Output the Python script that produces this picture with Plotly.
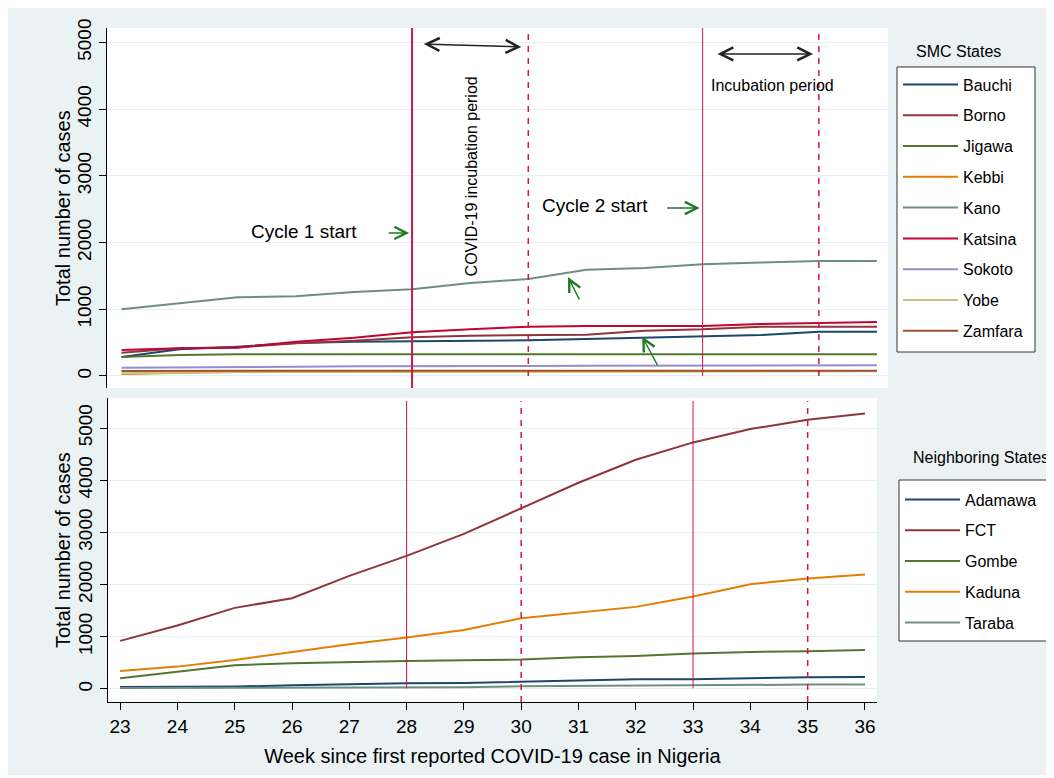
import plotly.graph_objects as go

FONT = "Liberation Sans, Arial, sans-serif"

weeks = list(range(23, 37))

# SMC states (top panel)
smc_names = ["Bauchi", "Borno", "Jigawa", "Kebbi", "Kano", "Katsina", "Sokoto", "Yobe", "Zamfara"]
bauchi = [285, 400, 440, 495, 515, 520, 525, 535, 555, 575, 585, 615, 665, 665]
borno = [350, 415, 430, 490, 530, 580, 605, 615, 620, 680, 700, 740, 745, 740]
jigawa = [285, 315, 325, 325, 325, 325, 325, 325, 325, 325, 325, 325, 325, 325]
kebbi = [30, 50, 65, 70, 70, 70, 70, 70, 70, 72, 72, 72, 75, 75]
kano = [1000, 1090, 1181, 1196, 1260, 1300, 1394, 1454, 1594, 1619, 1674, 1700, 1723, 1723]
katsina = [390, 415, 425, 515, 575, 655, 700, 740, 750, 750, 750, 780, 790, 810]
sokoto = [125, 127, 130, 137, 145, 150, 150, 150, 152, 154, 155, 157, 158, 160]
yobe = [40, 50, 55, 58, 60, 60, 62, 62, 64, 65, 66, 68, 70, 70]
zamfara = [75, 78, 80, 80, 80, 80, 80, 80, 80, 80, 80, 80, 80, 80]
smc_values = [bauchi, borno, jigawa, kebbi, kano, katsina, sokoto, yobe, zamfara]
smc_colors = ["#1a476f", "#90353b", "#55752f", "#e37e00", "#6e8e84",
              "#c10534", "#938dd2", "#cac27e", "#a0522d"]

# Neighboring states (bottom panel)
nb_names = ["Adamawa", "FCT", "Gombe", "Kaduna", "Taraba"]
adamawa = [38, 38, 45, 70, 90, 109, 115, 134, 160, 185, 185, 205, 224, 230]
fct = [921, 1215, 1554, 1739, 2168, 2551, 2973, 3459, 3951, 4393, 4725, 4981, 5160, 5281]
gombe = [205, 332, 454, 492, 518, 537, 550, 563, 607, 633, 678, 710, 722, 748]
kaduna = [345, 428, 556, 710, 857, 985, 1132, 1355, 1464, 1573, 1771, 2008, 2116, 2193]
taraba = [19, 22, 25, 25, 25, 25, 32, 51, 58, 70, 77, 77, 83, 83]
nb_values = [adamawa, fct, gombe, kaduna, taraba]
nb_colors = ["#1a476f", "#90353b", "#55752f", "#e37e00", "#6e8e84"]

yticks = [0, 1000, 2000, 3000, 4000, 5000]
cycle_starts = [28, 33]
incubation_ends = [30, 35]

OFF = 8            # page offset of the figure inside the browser window
W, H = 1040, 767
def px(x):
    return (x - OFF) / W
def py(y):
    return 1 - (y - OFF) / H

fig = go.Figure()

for name, vals, col in zip(smc_names, smc_values, smc_colors):
    fig.add_trace(go.Scatter(x=weeks, y=vals, mode="lines", name=name,
                             line=dict(color=col, width=2), xaxis="x", yaxis="y",
                             legend="legend", legendgroup=name))
for name, vals, col in zip(nb_names, nb_values, nb_colors):
    fig.add_trace(go.Scatter(x=weeks, y=vals, mode="lines", name=name,
                             line=dict(color=col, width=2), xaxis="x2", yaxis="y2",
                             legend="legend2", legendgroup=name))

VCOL = "#d0164a"
shapes = []
# legend boxes
shapes.append(dict(type="rect", xref="paper", yref="paper", x0=px(897), x1=px(1035),
                   y0=py(352), y1=py(67), fillcolor="white", line=dict(color="#333333", width=1),
                   layer="below"))
shapes.append(dict(type="rect", xref="paper", yref="paper", x0=px(899), x1=px(1048),
                   y0=py(641), y1=py(480), fillcolor="white", line=dict(color="#333333", width=1),
                   layer="below"))
# top panel vertical lines
shapes.append(dict(type="line", xref="x", yref="y domain", x0=cycle_starts[0], x1=cycle_starts[0],
                   y0=0, y1=1, line=dict(color=VCOL, width=2)))
shapes.append(dict(type="line", xref="x", yref="y domain", x0=cycle_starts[1], x1=cycle_starts[1],
                   y0=0.033, y1=1, line=dict(color=VCOL, width=1)))
for w in incubation_ends:
    shapes.append(dict(type="line", xref="x", yref="y domain", x0=w, x1=w, y0=0.033, y1=0.99,
                       line=dict(color=VCOL, width=1.5, dash="6px,6px")))
# bottom panel vertical lines
for w in cycle_starts:
    shapes.append(dict(type="line", xref="x2", yref="y2 domain", x0=w, x1=w, y0=0.045, y1=0.99,
                       line=dict(color=VCOL, width=1)))
for w in incubation_ends:
    shapes.append(dict(type="line", xref="x2", yref="y2 domain", x0=w, x1=w, y0=0, y1=0.99,
                       line=dict(color=VCOL, width=1.5, dash="6px,6px")))

GREEN = "#1f7a24"
ann = []
ann.append(dict(text="Cycle 1 start", x=26.14, y=2159, xref="x", yref="y", showarrow=False,
                xanchor="center", yanchor="middle",
                font=dict(size=19, color="black", family=FONT)))
ann.append(dict(text="Cycle 2 start", x=31.15, y=2549, xref="x", yref="y", showarrow=False,
                xanchor="center", yanchor="middle",
                font=dict(size=19, color="black", family=FONT)))
ann.append(dict(text="COVID-19 incubation period", x=29.03, y=2991, xref="x", yref="y",
                xanchor="center", yanchor="middle",
                showarrow=False, textangle=-90, font=dict(size=16, color="black", family=FONT)))
ann.append(dict(text="Incubation period", x=34.2, y=4348, xref="x", yref="y", showarrow=False,
                xanchor="center", yanchor="middle",
                font=dict(size=16, color="black", family=FONT)))
# green arrows
for (x, y, ax, ay) in [(27.95, 2145, -22, 0), (32.95, 2519, -34, 0),
                       (30.685, 1484, 12, 24), (31.96, 592, 16, 30)]:
    ann.append(dict(text="", x=x, y=y, xref="x", yref="y", showarrow=True, ax=ax, ay=ay,
                    arrowhead=5, arrowsize=1.6, arrowwidth=1.5, arrowcolor=GREEN))
# black double arrows
for (x, y, ax, ay) in [(29.88, 4933, -99, -3), (34.9, 4828, -97, 0)]:
    ann.append(dict(text="", x=x, y=y, xref="x", yref="y", showarrow=True, ax=ax, ay=ay,
                    arrowhead=5, startarrowhead=5, arrowside="end+start", arrowsize=1.7,
                    startarrowsize=1.7, arrowwidth=1.5, arrowcolor="#222222"))
# legend titles
ann.append(dict(text="SMC States", x=px(958), y=py(51.7), xref="paper", yref="paper",
                xanchor="center", yanchor="middle",
                showarrow=False, font=dict(size=16, color="black", family=FONT)))
ann.append(dict(text="Neighboring States", x=px(981), y=py(457), xref="paper", yref="paper",
                xanchor="center", yanchor="middle",
                showarrow=False, font=dict(size=16, color="black", family=FONT)))
# y-axis titles
for yc in [208, 550]:
    ann.append(dict(text="Total number of cases", x=px(63), y=py(yc), xref="paper", yref="paper",
                    xanchor="center", yanchor="middle", textangle=-90, showarrow=False,
                    font=dict(size=20, color="black", family=FONT)))

GRID = "#e6eef1"
yax_common = dict(tickvals=yticks, tickangle=-90, showline=True, linecolor="black", linewidth=1,
                  ticks="outside", ticklen=7, tickcolor="black", showgrid=True, gridcolor=GRID,
                  gridwidth=1, zeroline=False, automargin=False,
                  tickfont=dict(size=19, color="black", family=FONT))

legend_common = dict(xanchor="left", yanchor="top", bgcolor="rgba(0,0,0,0)",
                     borderwidth=0, font=dict(size=16, color="black", family=FONT),
                     tracegroupgap=7, traceorder="grouped", itemwidth=55)

fig.update_layout(
    template="none",
    width=W, height=H, autosize=False,
    margin=dict(l=0, r=0, t=0, b=0, autoexpand=False),
    paper_bgcolor="#eaf2f3", plot_bgcolor="white",
    font=dict(family=FONT, color="black"),
    xaxis=dict(domain=[px(106.8), px(888)], range=[22.747, 36.19], showticklabels=False,
               showgrid=False, zeroline=False, showline=False, ticks="", anchor="y",
               automargin=False),
    yaxis=dict(domain=[py(388), py(28)], range=[-180, 5217], anchor="x", **yax_common),
    xaxis2=dict(domain=[px(107.9), px(877)], range=[22.787, 36.21], tickvals=weeks,
                showgrid=False, zeroline=False, showline=True, linecolor="black", linewidth=1,
                ticks="outside", ticklen=7, tickcolor="black", anchor="y2", automargin=False,
                tickfont=dict(size=19, color="black", family=FONT),
                title=dict(text="Week since first reported COVID-19 case in Nigeria",
                           font=dict(size=20, color="black", family=FONT), standoff=13)),
    yaxis2=dict(domain=[py(702), py(398)], range=[-250, 5576], anchor="x2", **yax_common),
    legend=dict(x=px(898), y=py(67.5), **legend_common),
    legend2=dict(x=px(900), y=py(482.5), **legend_common),
    shapes=shapes,
    annotations=ann,
)

fig.write_html("out.html")
